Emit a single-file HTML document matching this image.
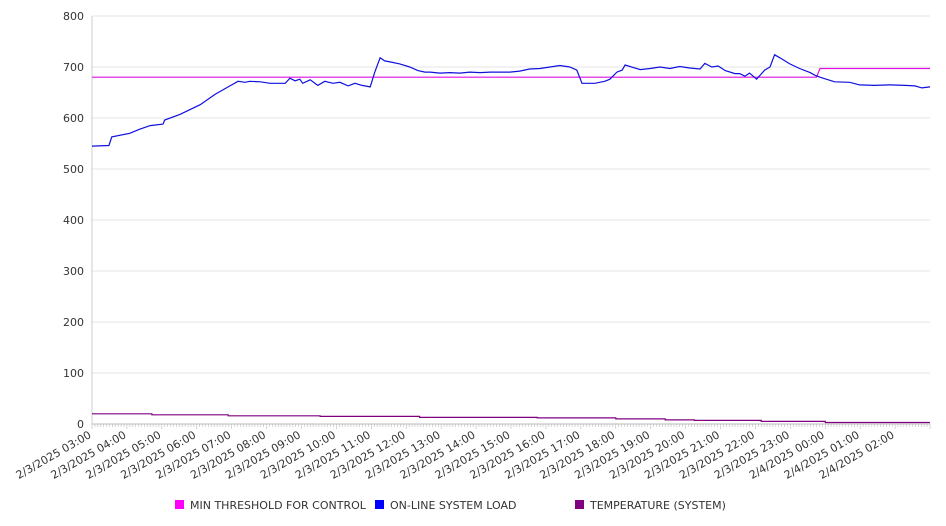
<!DOCTYPE html>
<html><head><meta charset="utf-8"><style>
body{margin:0;background:#fff;}
svg{display:block;font-family:"DejaVu Sans","Liberation Sans",sans-serif;}
</style></head><body>
<svg id="chart" width="946" height="526" viewBox="0 0 946 526"></svg>
<script>
const yTicks=[0,100,200,300,400,500,600,700,800];
const xLabels=["2/3/2025 03:00","2/3/2025 04:00","2/3/2025 05:00","2/3/2025 06:00","2/3/2025 07:00","2/3/2025 08:00","2/3/2025 09:00","2/3/2025 10:00","2/3/2025 11:00","2/3/2025 12:00","2/3/2025 13:00","2/3/2025 14:00","2/3/2025 15:00","2/3/2025 16:00","2/3/2025 17:00","2/3/2025 18:00","2/3/2025 19:00","2/3/2025 20:00","2/3/2025 21:00","2/3/2025 22:00","2/3/2025 23:00","2/4/2025 00:00","2/4/2025 01:00","2/4/2025 02:00"];
// minutes since 2/3/2025 03:00
const loadMinutes=[0,29,34,65,82,100,122,125,151,186,211,237,251,263,271,289,306,332,340,349,357,362,375,388,400,414,426,440,452,464,478,486,495,503,512,529,546,560,572,581,598,615,632,649,667,684,701,718,735,752,770,787,804,821,833,842,864,881,890,902,911,916,942,959,976,993,1010,1027,1045,1053,1065,1076,1088,1105,1113,1122,1130,1142,1156,1165,1173,1182,1199,1216,1234,1242,1251,1259,1276,1302,1319,1345,1371,1397,1414,1426,1440];
const loadValues=[545,546,563,570,578,585,588,596,607,626,646,663,672,670,672,671,668,668,678,673,676,668,675,664,672,668,670,663,668,664,661,690,718,712,710,706,700,693,690,690,688,689,688,690,689,690,690,690,692,696,697,700,703,700,694,668,668,672,676,690,694,704,695,697,700,697,701,698,696,707,700,702,693,687,687,682,688,676,694,700,724,718,706,697,689,684,680,677,671,670,665,664,665,664,663,659,661];
const thresholdMinutes=[0,1245,1251,1440];
const thresholdValues=[680,680,697,697];
const tempMinutes=[0,103,103,234,234,392,392,563,563,765,765,900,900,985,985,1035,1035,1150,1150,1260,1260,1440];
const tempValues=[20,20,18,18,16,16,15,15,13,13,12,12,10,10,8,8,7,7,5,5,3,3];

const X0=92,X1=930,Y0=424,Y1=16;
const xs=m=>X0+(X1-X0)*m/1440;
const ys=v=>Y0-(Y0-Y1)*v/800;
const NS="http://www.w3.org/2000/svg";
const svg=document.getElementById('chart');
function mk(t,a,p){const e=document.createElementNS(NS,t);for(const k in a)e.setAttribute(k,a[k]);(p||svg).appendChild(e);return e;}

yTicks.forEach(v=>{
  const g=mk('line',{x1:X0,x2:X1,y1:ys(v),y2:ys(v),stroke:v===0?'#bbb':'#e6e6e6','stroke-width':1});
  
  
  const t=mk('text',{x:84,y:ys(v)+4,'text-anchor':'end','font-size':11,fill:'#333'});
  t.textContent=v;
  
  
});
const ax=mk('line',{x1:X0,x2:X0,y1:Y1,y2:Y0,stroke:'#ccc'});


for(let i=0;i<=24*12;i++){
  const x=X0+(X1-X0)*i/288;
  const m=mk('line',{x1:x,x2:x,y1:Y0,y2:Y0+(i%12===0?5:3),stroke:'#bbb','stroke-width':0.6});
  
  
}
xLabels.forEach((l,i)=>{
  const x=xs(i*60),y=Y0+13;
  const t=mk('text',{x:x,y:y,'text-anchor':'end','font-size':11,fill:'#333',transform:`rotate(-30 ${x} ${y})`});
  t.textContent=l;
  
  
});
function line(ms,vs,color,name){
  const d=ms.map((m,i)=>(i?'L':'M')+xs(m).toFixed(1)+' '+ys(vs[i]).toFixed(1)).join(' ');
  const p=mk('path',{d:d,fill:'none',stroke:color,'stroke-width':1.2});
  
  
}
line(tempMinutes,tempValues,'#800080','temperature-line');
line(thresholdMinutes,thresholdValues,'#e010e0','min-threshold-line');
line(loadMinutes,loadValues,'#1010e0','online-system-load-line');

[[175,'#ff00ff','MIN THRESHOLD FOR CONTROL','legend-min-threshold'],[375,'#0000ff','ON-LINE SYSTEM LOAD','legend-online-load'],[575,'#800080','TEMPERATURE (SYSTEM)','legend-temperature']].forEach(([x,c,l,n])=>{
  const g=mk('g',{});
  
  
  mk('rect',{x:x,y:500,width:9,height:9,fill:c},g);
  const t=mk('text',{x:x+15,y:509,'font-size':11,fill:'#333'},g);
  t.textContent=l;
});
</script>
</body></html>
